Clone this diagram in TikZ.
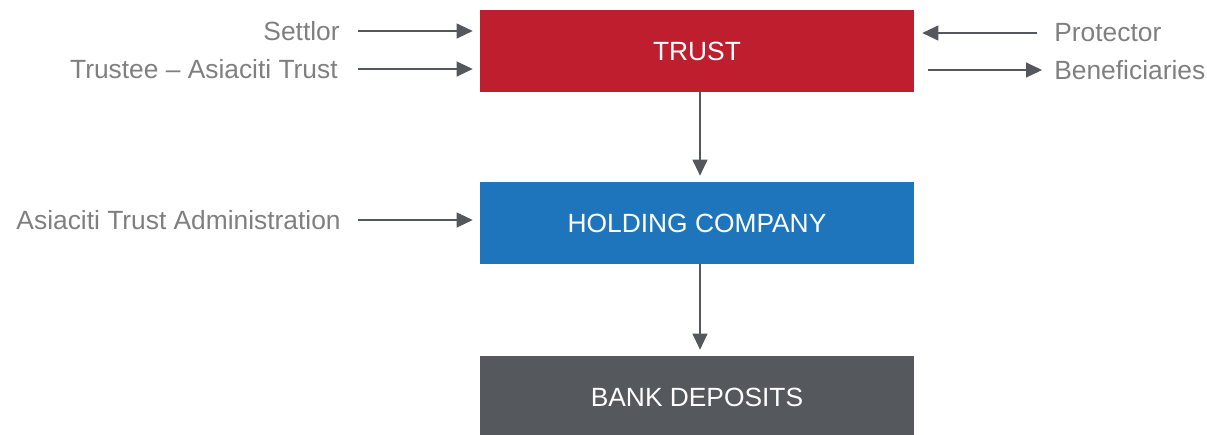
\documentclass[tikz,border=0pt]{standalone}
\usepackage{fontspec}
\setmainfont{Liberation Sans}
\usetikzlibrary{arrows.meta}

\definecolor{trustred}{HTML}{BE1E2D}
\definecolor{holdblue}{HTML}{1E75BC}
\definecolor{bankgrey}{HTML}{55585D}
\definecolor{labelgrey}{HTML}{7F7F7F}
\definecolor{linegrey}{HTML}{54575C}

\begin{document}
\begin{tikzpicture}[x=0.02cm,y=0.02cm]
\tikzstyle{every node}+=[font=\fontsize{15}{18}\selectfont]
\tikzstyle{box}=[minimum width=8.68cm,minimum height=1.64cm,inner sep=0pt,text=white]
\tikzstyle{side}=[text=labelgrey,inner sep=0pt]
\tikzstyle{link}=[draw=linegrey,line width=0.6pt,-{Triangle[length=0.32cm,width=0.3cm]}]
\useasboundingbox (0,0) rectangle (1207,-434);
\node [box,fill=trustred] (trust) at (697,-51) {TRUST};
\node [box,fill=holdblue] (holding) at (697,-223) {HOLDING COMPANY};
\node [box,fill=bankgrey] (bank) at (697,-397) {BANK DEPOSITS};
\node [side,anchor=east] (settlor) at (340,-31) {Settlor};
\node [side,anchor=east] (trustee) at (338,-69) {Trustee -- Asiaciti Trust};
\node [side,anchor=east] (admin) at (341,-220) {Asiaciti Trust Administration};
\node [side,anchor=west] (protector) at (1054,-33) {Protector};
\node [side,anchor=west] (benef) at (1054,-70) {Beneficiaries};
\draw [link,shorten <=0.36cm,shorten >=0.14cm] (settlor.east) -- (settlor.east -| trust.west);
\draw [link,shorten <=0.4cm,shorten >=0.14cm] (trustee.east) -- (trustee.east -| trust.west);
\draw [link,shorten <=0.34cm,shorten >=0.14cm] (admin.east) -- (admin.east -| holding.west);
\draw [link,shorten <=0.34cm,shorten >=0.16cm] (protector.west) -- (protector.west -| trust.east);
\draw [link,shorten <=0.28cm,shorten >=0.24cm] (benef.west -| trust.east) -- (benef.west);
\draw [link,shorten >=0.12cm] ([xshift=0.06cm]trust.south) -- ([xshift=0.06cm]holding.north);
\draw [link,shorten >=0.12cm] ([xshift=0.06cm]holding.south) -- ([xshift=0.06cm]bank.north);
\end{tikzpicture}
\end{document}
